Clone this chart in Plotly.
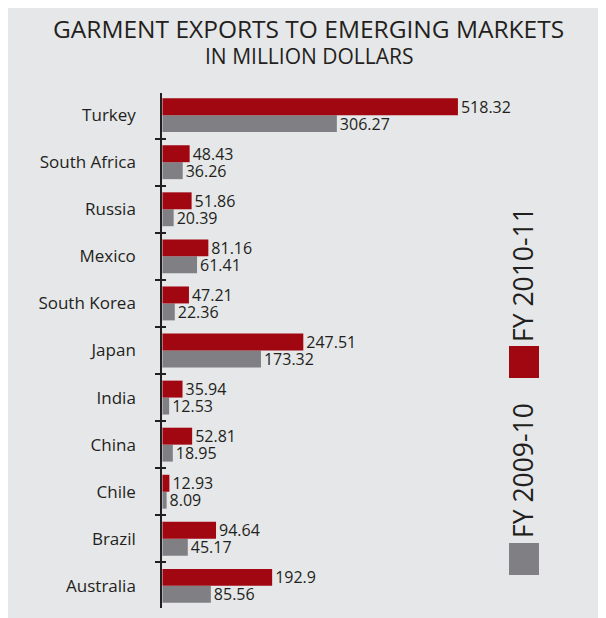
import plotly.graph_objects as go

categories = ["Australia", "Brazil", "Chile", "China", "India", "Japan",
              "South Korea", "Mexico", "Russia", "South Africa", "Turkey"]
fy_2009_10 = [85.56, 45.17, 8.09, 18.95, 12.53, 173.32, 22.36, 61.41, 20.39, 36.26, 306.27]
fy_2010_11 = [192.9, 94.64, 12.93, 52.81, 35.94, 247.51, 47.21, 81.16, 51.86, 48.43, 518.32]
series_names = ["FY 2009-10", "FY 2010-11"]
title_line1 = "GARMENT EXPORTS TO EMERGING MARKETS"
title_line2 = "IN MILLION DOLLARS"

RED = "#A10711"
GRAY = "#808084"
BG = "#E6E7E9"
TXT = "#231F20"
FONT = "Open Sans"

OFF = 8  # page body margin
W, H = 606 - OFF, 618 - OFF
# page-pixel layout
PL, PR, PT, PB = 162, 500, 93, 608
ML, MR, MT, MB = PL - OFF, W - (PR - OFF), PT - OFF, H - (PB - OFF)
PW = W - ML - MR
PH = H - MT - MB
YR = [-0.47, 10.47]

def px_x(px):
    return (px - OFF - ML) / PW

def px_y(py):
    return (H - MB - (py - OFF)) / PH

fig = go.Figure()
fig.add_trace(go.Bar(y=categories, x=fy_2009_10, name=series_names[0], orientation="h",
                     marker=dict(color=GRAY, line=dict(width=0)),
                     texttemplate="%{x}", textposition="outside", constraintext="none",
                     textfont=dict(color=TXT, size=16, family=FONT), cliponaxis=False))
fig.add_trace(go.Bar(y=categories, x=fy_2010_11, name=series_names[1], orientation="h",
                     marker=dict(color=RED, line=dict(width=0)),
                     texttemplate="%{x}", textposition="outside", constraintext="none",
                     textfont=dict(color=TXT, size=16, family=FONT), cliponaxis=False))
# invisible trace for overlay axis (cross ticks)
fig.add_trace(go.Bar(y=categories, x=[0] * len(categories), yaxis="y2", orientation="h",
                     marker=dict(color="rgba(0,0,0,0)"), showlegend=False, hoverinfo="skip"))

shapes = [
    dict(type="rect", xref="paper", yref="paper",
         x0=px_x(509), x1=px_x(539), y0=px_y(378), y1=px_y(346),
         fillcolor=RED, line=dict(width=0)),
    dict(type="rect", xref="paper", yref="paper",
         x0=px_x(509), x1=px_x(539), y0=px_y(575), y1=px_y(543),
         fillcolor=GRAY, line=dict(width=0)),
]

annotations = [
    dict(text=title_line1, xref="paper", yref="paper", x=px_x(308), y=px_y(28),
         showarrow=False, xanchor="center", yanchor="middle",
         font=dict(family=FONT, size=24.5, color=TXT)),
    dict(text=title_line2, xref="paper", yref="paper", x=px_x(309), y=px_y(56),
         showarrow=False, xanchor="center", yanchor="middle",
         font=dict(family=FONT, size=21, color=TXT)),
    dict(text=series_names[1], xref="paper", yref="paper", x=px_x(523), y=px_y(275),
         showarrow=False, xanchor="center", yanchor="middle", textangle=-90,
         font=dict(family=FONT, size=26.5, color=TXT)),
    dict(text=series_names[0], xref="paper", yref="paper", x=px_x(523), y=px_y(471),
         showarrow=False, xanchor="center", yanchor="middle", textangle=-90,
         font=dict(family=FONT, size=26.5, color=TXT)),
]

fig.update_layout(
    width=W, height=H,
    margin=dict(l=ML, r=MR, t=MT, b=MB, pad=0, autoexpand=False),
    paper_bgcolor=BG, plot_bgcolor="rgba(0,0,0,0)",
    barmode="group", bargap=0.28, bargroupgap=0,
    showlegend=False,
    font=dict(family=FONT, color=TXT),
    xaxis=dict(range=[0, 592], visible=False, showgrid=False, zeroline=False,
               fixedrange=True, automargin=False),
    yaxis=dict(type="category", categoryorder="array", categoryarray=categories,
               range=YR, showline=True, linecolor=TXT, linewidth=1.5,
               ticks="outside", ticklen=5, tickcolor=TXT, tickwidth=1.5,
               tickson="boundaries", showgrid=False, zeroline=False, automargin=False,
               tickfont=dict(family=FONT, size=17, color=TXT), ticklabelstandoff=21),
    yaxis2=dict(type="category", categoryorder="array", categoryarray=categories,
                range=YR, overlaying="y", side="left", showline=False,
                ticks="inside", ticklen=4, tickcolor=TXT, tickwidth=1.5, automargin=False,
                tickson="boundaries", showticklabels=False, showgrid=False, zeroline=False),
    shapes=shapes, annotations=annotations,
)

fig.write_html("out.html")
